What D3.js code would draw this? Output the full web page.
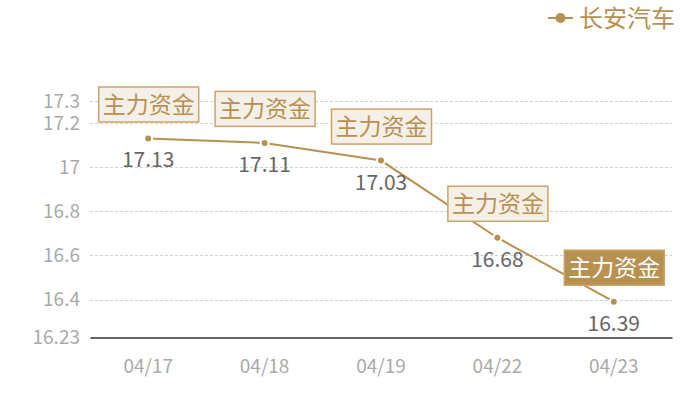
<!DOCTYPE html>
<html><head><meta charset="utf-8">
<script src="https://cdn.jsdelivr.net/npm/d3@7/dist/d3.min.js"></script>
<style>body{margin:0;background:#fff}svg{display:block}text{font-family:"Noto Sans CJK SC","Noto Sans",sans-serif}</style>
</head><body>
<svg id="c" width="700" height="400"></svg>
<script>
const dates = ["04/17","04/18","04/19","04/22","04/23"];
const prices = [17.13, 17.11, 17.03, 16.68, 16.39];
const yTicks = [16.23, 16.4, 16.6, 16.8, 17, 17.2, 17.3];
const seriesName = "长安汽车";
const markLabel = "主力资金";
const highlightIndex = 4;

const gold = "#b8904f";
const svg = d3.select("#c");
const x = d3.scaleBand().domain(dates).range([90, 672]);
const y = d3.scaleLinear().domain([16.23, 17.3]).range([337, 101]);
const cx = d => x(d) + x.bandwidth()/2;

// grid
svg.append("g").selectAll("line").data(yTicks.slice(1)).join("line")
  .attr("x1", 90).attr("x2", 672)
  .attr("y1", d => Math.round(y(d))+0.5).attr("y2", d => Math.round(y(d))+0.5)
  .attr("stroke", "#d0d0d0").attr("stroke-dasharray", "3,2").attr("stroke-width", 1);

// y axis labels
const yAxis = d3.axisLeft(y).tickValues(yTicks).tickSize(0).tickPadding(10).tickFormat(d => String(d));
const gy = svg.append("g").attr("transform", "translate(90,0)").call(yAxis);
gy.select(".domain").remove();
gy.selectAll("text").attr("fill", "#aaaaaa").attr("font-size", 19);

// x axis
const xAxis = d3.axisBottom(x).tickSize(0).tickPadding(22);
const gx = svg.append("g").attr("transform", `translate(0,${Math.round(y(16.23))+0.5})`).call(xAxis);
gx.select(".domain").attr("stroke", "#333").attr("stroke-width", 1.3);
gx.selectAll("text").attr("fill", "#aaaaaa").attr("font-size", 19);

// line
const line = d3.line().x((d,i) => cx(dates[i])).y(d => y(d));
svg.append("path").datum(prices).attr("d", line)
  .attr("fill", "none").attr("stroke", gold).attr("stroke-width", 2);

// points
svg.append("g").selectAll("circle").data(prices).join("circle")
  .attr("cx", (d,i) => cx(dates[i])).attr("cy", d => y(d)).attr("r", 4)
  .attr("fill", gold).attr("stroke", "#fff").attr("stroke-width", 2);

// value labels
svg.append("g").selectAll("text").data(prices).join("text")
  .attr("x", (d,i) => cx(dates[i])).attr("y", d => y(d) + 29)
  .attr("text-anchor", "middle").attr("font-size", 21).attr("fill", "#666")
  .text(d => d.toFixed(2));

// annotation boxes
const bw = 100, bh = 35;
const boxes = svg.append("g").selectAll("g").data(prices).join("g")
  .attr("transform", (d,i) => `translate(${cx(dates[i]) - bw/2},${y(d) - 17 - bh})`);
boxes.append("rect").attr("x", 0.5).attr("y", 0.5).attr("width", bw).attr("height", bh)
  .attr("fill", (d,i) => i === highlightIndex ? gold : "#f4efe7")
  .attr("stroke", "#c9a56b").attr("stroke-width", 1.5);
boxes.append("text").attr("x", bw/2 + 0.5).attr("y", bh/2 + 9)
  .attr("text-anchor", "middle").attr("font-size", 23)
  .attr("fill", (d,i) => i === highlightIndex ? "#fff" : gold)
  .text(markLabel);

// legend
const lg = svg.append("g");
lg.append("line").attr("x1", 548).attr("x2", 573).attr("y1", 18).attr("y2", 18).attr("stroke", gold).attr("stroke-width", 2);
lg.append("circle").attr("cx", 560.5).attr("cy", 18).attr("r", 5).attr("fill", gold);
lg.append("text").attr("x", 579).attr("y", 27).attr("font-size", 24).attr("fill", gold).text(seriesName);
</script>
</body></html>
